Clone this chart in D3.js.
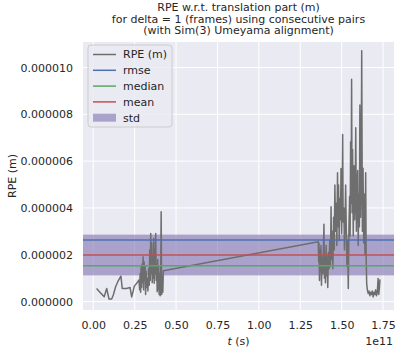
<!DOCTYPE html>
<head>
  <meta charset="utf-8">
  <script src="https://d3js.org/d3.v7.min.js"></script>
  <style>
    body { margin: 0; background: #fff; }
    svg { width: 399px; height: 351px; font-family: 'DejaVu Sans', sans-serif; }
  </style>
</head>

<body>
  <svg></svg>
  <script>
    // time in units of 1e11 s, error in units of 1e-6 m
    var times = [0.020, 0.047, 0.066, 0.081, 0.095, 0.111, 0.121, 0.135, 0.148, 0.167, 0.175, 0.200, 0.222, 0.232, 0.248, 0.262, 0.276,
      0.280, 0.283, 0.286, 0.289, 0.292, 0.295, 0.298, 0.301, 0.304, 0.307, 0.310, 0.313, 0.316, 0.319, 0.322, 0.326, 0.330, 0.334,
      0.338, 0.341, 0.344, 0.347, 0.350, 0.353, 0.356, 0.359, 0.362, 0.365, 0.368, 0.371, 0.374, 0.377, 0.380, 0.383, 0.386, 0.389,
      0.392, 0.395, 0.398, 0.401, 0.404, 0.407, 0.410, 0.413, 0.416, 0.420, 0.423,
      1.359, 1.361, 1.363, 1.366, 1.369, 1.372, 1.375, 1.378, 1.382, 1.386, 1.390, 1.393, 1.396, 1.399, 1.402, 1.406, 1.409, 1.412,
      1.416, 1.420, 1.424, 1.428, 1.432, 1.436, 1.439, 1.443, 1.447, 1.451, 1.455, 1.459, 1.463, 1.467, 1.471, 1.475, 1.478, 1.481,
      1.485, 1.489, 1.493, 1.496, 1.500, 1.503, 1.506, 1.509, 1.513, 1.517, 1.521, 1.524, 1.528, 1.532, 1.536, 1.540, 1.544, 1.548,
      1.551, 1.554, 1.557, 1.560, 1.563, 1.566, 1.570, 1.574, 1.578, 1.582, 1.585, 1.589, 1.593, 1.597, 1.600, 1.604, 1.607, 1.610,
      1.614, 1.618, 1.621, 1.625, 1.629, 1.633, 1.637, 1.641, 1.645, 1.648, 1.651, 1.655, 1.660, 1.665, 1.670, 1.675, 1.680, 1.685,
      1.690, 1.695, 1.700, 1.705, 1.710, 1.715, 1.720, 1.724, 1.728, 1.731];
    var rpe = [0.56, 0.35, 0.21, 0.56, 0.11, 0.11, 0.28, 0.63, 0.85, 1.09, 0.56, 0.56, 0.60, 0.20, 0.66, 0.78, 0.92,
      0.50, 1.20, 0.40, 1.50, 0.60, 1.60, 0.80, 1.91, 0.50, 1.70, 0.90, 1.50, 0.30, 1.30, 0.60, 1.00, 0.45, 1.40,
      0.70, 2.20, 0.90, 2.91, 1.20, 2.50, 0.80, 2.00, 1.00, 2.70, 0.78, 2.20, 1.20, 2.91, 0.90, 1.60, 0.42, 1.80,
      0.50, 1.50, 0.30, 1.20, 0.25, 1.00, 3.84, 0.30, 1.10, 0.40, 1.32,
      2.56, 1.70, 2.50, 0.90, 2.20, 1.30, 2.40, 0.70, 1.90, 1.20, 2.30, 3.30, 1.00, 2.00, 0.80, 2.40, 1.10, 1.90,
      0.60, 2.10, 1.40, 2.60, 1.50, 4.05, 1.80, 3.00, 1.40, 3.60, 2.20, 4.98, 3.00, 4.20, 2.40, 5.50, 3.20, 4.98,
      2.60, 4.40, 3.50, 5.69, 2.90, 4.50, 7.14, 3.40, 4.00, 2.20, 3.60, 4.98, 3.00, 1.50, 2.60, 0.56, 3.20, 4.50,
      2.80, 6.83, 4.20, 9.50, 3.80, 6.50, 2.80, 5.80, 3.50, 4.80, 7.43, 3.00, 5.00, 5.60, 2.40, 4.60, 3.20, 8.40,
      3.60, 5.40, 10.72, 3.00, 5.70, 2.50, 4.60, 2.00, 5.50, 1.80, 0.78, 0.50, 0.35, 0.45, 0.25, 0.40, 0.30, 0.45,
      0.20, 0.40, 0.30, 0.50, 0.25, 0.40, 0.99, 0.30, 0.60, 0.95];

    var stats = {rmse: 2.63, median: 1.53, mean: 1.99, std: 0.87};
    var legendLabels = ['RPE (m)', 'rmse', 'median', 'mean', 'std'];
    var xTicks = [0, 0.25, 0.5, 0.75, 1.0, 1.25, 1.5, 1.75];
    var yTicks = [0, 2, 4, 6, 8, 10];

    var margin = {left: 83, right: 5, top: 42, bottom: 41};
    var width = 399 - margin.left - margin.right;
    var height = 351 - margin.top - margin.bottom;
    var textColor = '#262626';
    var fontSize = '11px';

    var svg = d3.select('svg');
    var g = svg.append('g')
      .attr('transform', 'translate(' + [margin.left, margin.top] + ')');

    var x = d3.scaleLinear().domain([-0.062, 1.816]).range([0, width]);
    var y = d3.scaleLinear().domain([-0.36, 11.09]).range([height, 0]);

    g.append('rect')
      .attr('width', width).attr('height', height)
      .attr('fill', '#EAEAF2');

    // grid
    g.selectAll('line.gx').data(xTicks).enter().append('line')
      .attr('x1', function(d) {return x(d)}).attr('x2', function(d) {return x(d)})
      .attr('y1', 0).attr('y2', height)
      .attr('stroke', '#fff').attr('stroke-width', 1);
    g.selectAll('line.gy').data(yTicks).enter().append('line')
      .attr('y1', function(d) {return y(d)}).attr('y2', function(d) {return y(d)})
      .attr('x1', 0).attr('x2', width)
      .attr('stroke', '#fff').attr('stroke-width', 1);

    // axes, no spines
    var xAxis = g.append('g')
      .attr('transform', 'translate(0,' + height + ')')
      .call(d3.axisBottom(x).tickValues(xTicks).tickSize(0).tickPadding(11)
        .tickFormat(function(d) {return d.toFixed(2)}));
    var yAxis = g.append('g')
      .call(d3.axisLeft(y).tickValues(yTicks).tickSize(0).tickPadding(10)
        .tickFormat(function(d) {return (d * 1e-6).toFixed(6)}));
    [xAxis, yAxis].forEach(function(a) {
      a.select('.domain').remove();
      a.selectAll('text').attr('fill', textColor)
        .style('font-size', fontSize).style('font-family', 'DejaVu Sans');
    });

    // std band
    g.append('rect')
      .attr('x', 0).attr('width', width)
      .attr('y', y(stats.mean + stats.std))
      .attr('height', y(stats.mean - stats.std) - y(stats.mean + stats.std))
      .attr('fill', '#8172B2').attr('fill-opacity', 0.6);

    var line = d3.line()
      .x(function(d) {return x(d[0])})
      .y(function(d) {return y(d[1])});
    g.append('path')
      .datum(d3.zip(times, rpe))
      .attr('d', line)
      .attr('fill', 'none')
      .attr('stroke', '#6e6e6e')
      .attr('stroke-width', 1.5)
      .attr('stroke-linejoin', 'round');

    var statLines = [['rmse', '#4C72B0'], ['median', '#55A868'], ['mean', '#C44E52']];
    statLines.forEach(function(s) {
      g.append('line')
        .attr('x1', 0).attr('x2', width)
        .attr('y1', y(stats[s[0]])).attr('y2', y(stats[s[0]]))
        .attr('stroke', s[1]).attr('stroke-width', 1.5);
    });

    // legend
    var legend = g.append('g').attr('transform', 'translate(5,3)');
    legend.append('rect')
      .attr('width', 84).attr('height', 82).attr('rx', 3)
      .attr('fill', '#EAEAF2').attr('fill-opacity', 0.8)
      .attr('stroke', '#cccccc').attr('stroke-width', 1);
    var legendColors = ['#6e6e6e', '#4C72B0', '#55A868', '#C44E52', '#8172B2'];
    legendLabels.forEach(function(lab, i) {
      var ly = 9.5 + i * 15.8;
      if (i < 4) {
        legend.append('line')
          .attr('x1', 5).attr('x2', 28).attr('y1', ly).attr('y2', ly)
          .attr('stroke', legendColors[i]).attr('stroke-width', 1.5);
      } else {
        legend.append('rect')
          .attr('x', 5).attr('y', ly - 4).attr('width', 23).attr('height', 8)
          .attr('fill', legendColors[i]).attr('fill-opacity', 0.6);
      }
      legend.append('text')
        .attr('x', 35).attr('y', ly).attr('dy', '0.35em')
        .attr('fill', textColor).style('font-size', fontSize)
        .text(lab);
    });

    // labels
    var title = ['RPE w.r.t. translation part (m)',
      'for delta = 1 (frames) using consecutive pairs',
      '(with Sim(3) Umeyama alignment)'];
    svg.selectAll('text.title').data(title).enter().append('text')
      .attr('x', margin.left + width / 2)
      .attr('y', function(d, i) {return 10.7 + i * 11.8})
      .attr('text-anchor', 'middle')
      .attr('fill', textColor)
      .style('font-size', fontSize)
      .text(function(d) {return d});

    svg.append('text')
      .attr('transform', 'translate(16,' + (margin.top + height / 2) + ')rotate(-90)')
      .attr('text-anchor', 'middle')
      .attr('fill', textColor).style('font-size', fontSize)
      .text('RPE (m)');

    var xl = svg.append('text')
      .attr('x', margin.left + width / 2).attr('y', 345)
      .attr('text-anchor', 'middle')
      .attr('fill', textColor).style('font-size', fontSize);
    xl.append('tspan').style('font-style', 'italic').text('t');
    xl.append('tspan').text(' (s)');

    svg.append('text')
      .attr('x', margin.left + width - 1).attr('y', 345)
      .attr('text-anchor', 'end')
      .attr('fill', textColor).style('font-size', fontSize)
      .text('1e11');
  </script>
</body>
